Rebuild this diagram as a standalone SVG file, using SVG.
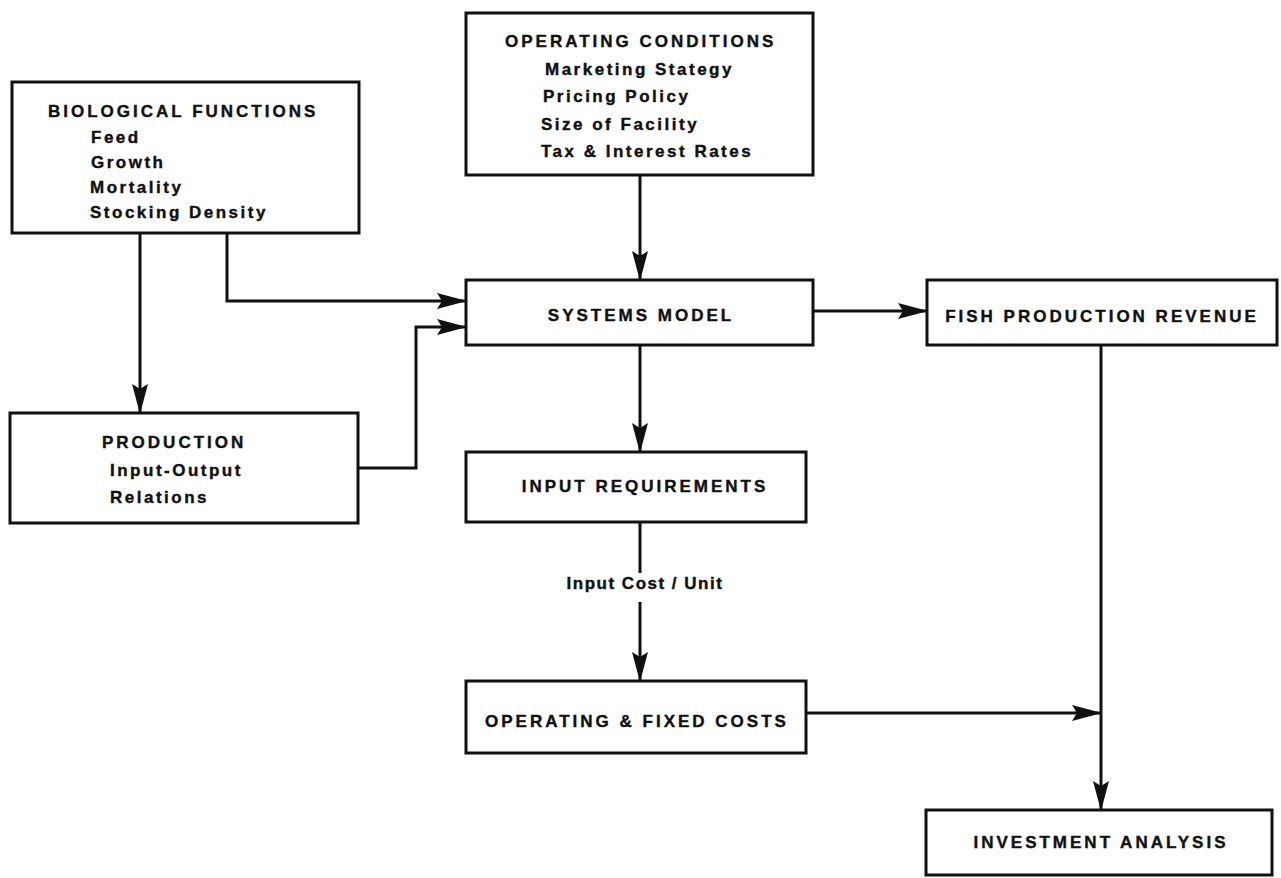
<svg xmlns="http://www.w3.org/2000/svg" width="1281" height="878" viewBox="0 0 1281 878">
<style>
.box{fill:#fff;stroke:#111;stroke-width:3}
.t{font-family:"Liberation Sans",Arial,sans-serif;font-weight:bold;font-size:17px;fill:#111;stroke:#111;stroke-width:0.4;letter-spacing:3px}
.i{font-family:"Liberation Sans",Arial,sans-serif;font-weight:bold;font-size:17px;fill:#111;stroke:#111;stroke-width:0.4;letter-spacing:2.5px}
.c{text-anchor:middle}
.ln{fill:none;stroke:#111;stroke-width:3}
</style>
<defs>
<marker id="ah" viewBox="0 0 30 16" refX="29" refY="8" markerWidth="30" markerHeight="16" markerUnits="userSpaceOnUse" orient="auto">
<path d="M0,0 L30,8 L0,16 L5,8 z" fill="#111"/>
</marker>
</defs>
<rect width="1281" height="878" fill="#fff"/>
<g id="connectors">
<path class="ln" d="M140,233 V413" marker-end="url(#ah)"/>
<path class="ln" d="M227,233 V301 H466" marker-end="url(#ah)"/>
<path class="ln" d="M358,468 H416 V327 H466" marker-end="url(#ah)"/>
<path class="ln" d="M640,175 V280" marker-end="url(#ah)"/>
<path class="ln" d="M813,311 H927" marker-end="url(#ah)"/>
<path class="ln" d="M640,345 V452" marker-end="url(#ah)"/>
<path class="ln" d="M640,522 V573"/>
<path class="ln" d="M640,602 V681" marker-end="url(#ah)"/>
<path class="ln" d="M806,713 H1101" marker-end="url(#ah)"/>
<path class="ln" d="M1101,345 V810" marker-end="url(#ah)"/>
<text class="i c" x="645" y="589" style="letter-spacing:1.5px">Input Cost / Unit</text>
</g>
<g id="biological">
<rect class="box" x="12" y="82" width="347" height="151"/>
<text class="t" x="48" y="117">BIOLOGICAL FUNCTIONS</text>
<text class="i" x="91" y="143">Feed</text>
<text class="i" x="91" y="168">Growth</text>
<text class="i" x="90" y="193">Mortality</text>
<text class="i" x="90" y="218">Stocking Density</text>
</g>
<g id="operating-conditions">
<rect class="box" x="466" y="13" width="347" height="162"/>
<text class="t" x="505" y="47">OPERATING CONDITIONS</text>
<text class="i" x="545" y="75">Marketing Stategy</text>
<text class="i" x="543" y="102">Pricing Policy</text>
<text class="i" x="541" y="130">Size of Facility</text>
<text class="i" x="541" y="157">Tax &amp; Interest Rates</text>
</g>
<g id="systems-model">
<rect class="box" x="466" y="280" width="347" height="65"/>
<text class="t c" x="641" y="321">SYSTEMS MODEL</text>
</g>
<g id="fish-revenue">
<rect class="box" x="927" y="280" width="350" height="65"/>
<text class="t c" x="1102" y="322">FISH PRODUCTION REVENUE</text>
</g>
<g id="production">
<rect class="box" x="10" y="413" width="348" height="110"/>
<text class="t" x="102" y="448">PRODUCTION</text>
<text class="i" x="110" y="476">Input-Output</text>
<text class="i" x="110" y="503">Relations</text>
</g>
<g id="input-requirements">
<rect class="box" x="466" y="452" width="340" height="70"/>
<text class="t c" x="645" y="492">INPUT REQUIREMENTS</text>
</g>
<g id="operating-fixed-costs">
<rect class="box" x="466" y="681" width="340" height="72"/>
<text class="t" x="485" y="727">OPERATING &amp; FIXED COSTS</text>
</g>
<g id="investment-analysis">
<rect class="box" x="926" y="810" width="346" height="65"/>
<text class="t c" x="1101" y="848">INVESTMENT ANALYSIS</text>
</g>
</svg>
